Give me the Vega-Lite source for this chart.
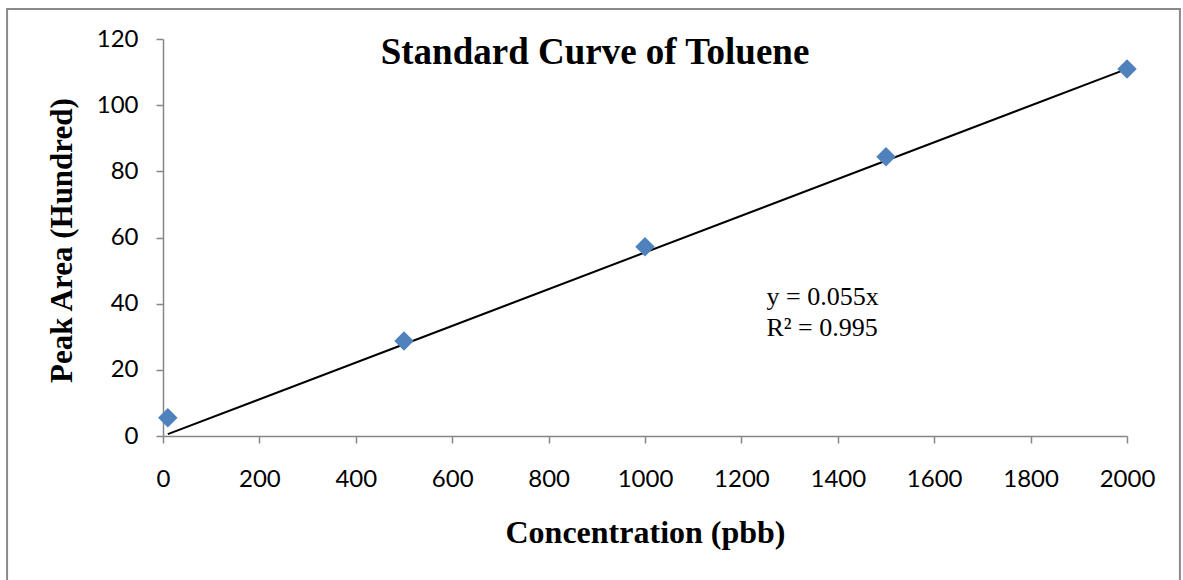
{
  "$schema": "https://vega.github.io/schema/vega-lite/v6.json",
  "autosize": "none",
  "width": 964,
  "height": 397,
  "padding": {"left": 163, "top": 39, "right": 56, "bottom": 144},
  "background": "white",
  "title": {
    "text": "Standard Curve of Toluene",
    "anchor": "middle",
    "font": "Liberation Serif",
    "fontSize": 37,
    "fontWeight": "bold",
    "color": "black",
    "baseline": "alphabetic",
    "offset": 0,
    "dx": -50,
    "dy": 93
  },
  "datasets": {
    "standards": [
      {"conc": 10, "area": 5.5},
      {"conc": 500, "area": 28.7},
      {"conc": 1000, "area": 57.2},
      {"conc": 1500, "area": 84.4},
      {"conc": 2000, "area": 110.9}
    ],
    "trend": [
      {"conc": 10, "area": 0.555},
      {"conc": 2000, "area": 110.98}
    ]
  },
  "config": {
    "view": {"stroke": null},
    "axis": {
      "grid": false,
      "domainColor": "#868686",
      "domainWidth": 1.5,
      "tickColor": "#868686",
      "tickWidth": 1.5,
      "tickSize": 7,
      "labelFont": "Lato",
      "labelFontSize": 24,
      "labelColor": "black",
      "labelFlush": false,
      "labelOverlap": false,
      "titleFont": "Liberation Serif",
      "titleFontSize": 31,
      "titleFontWeight": "bold",
      "titleColor": "black"
    }
  },
  "layer": [
    {
      "data": {"values": [{}]},
      "mark": {"type": "rect", "fill": null, "stroke": "#8a8a8a", "strokeWidth": 2, "clip": false},
      "encoding": {
        "x": {"datum": -323.5, "type": "quantitative"},
        "x2": {"datum": 2109.8},
        "y": {"datum": 129.1, "type": "quantitative"},
        "y2": {"datum": -50}
      }
    },
    {
      "data": {"name": "trend"},
      "mark": {"type": "line", "color": "black", "strokeWidth": 2},
      "encoding": {
        "x": {"field": "conc", "type": "quantitative"},
        "y": {"field": "area", "type": "quantitative"}
      }
    },
    {
      "data": {"name": "standards"},
      "mark": {"type": "point", "shape": "diamond", "filled": true, "color": "#4f81bd", "size": 380, "opacity": 1},
      "encoding": {
        "x": {
          "field": "conc",
          "type": "quantitative",
          "scale": {"domain": [0, 2000], "nice": false},
          "axis": {
            "values": [0, 200, 400, 600, 800, 1000, 1200, 1400, 1600, 1800, 2000],
            "format": "d",
            "labelPadding": 24,
            "title": "Concentration (pbb)",
            "titleFontSize": 32,
            "titleBaseline": "alphabetic",
            "titleY": 106,
            "titleX": 482
          }
        },
        "y": {
          "field": "area",
          "type": "quantitative",
          "scale": {"domain": [0, 120], "nice": false},
          "axis": {
            "values": [0, 20, 40, 60, 80, 100, 120],
            "format": "d",
            "labelPadding": 18,
            "title": "Peak Area (Hundred)",
            "titleBaseline": "middle",
            "titleX": -101,
            "titleY": 201
          }
        }
      }
    },
    {
      "data": {"values": [{"conc": 1252, "area": 39.6, "eq": ["y = 0.055x", "R² = 0.995"]}]},
      "mark": {"type": "text", "align": "left", "baseline": "alphabetic", "font": "Liberation Serif", "fontSize": 26, "lineHeight": 31, "color": "black"},
      "encoding": {
        "x": {"field": "conc", "type": "quantitative"},
        "y": {"field": "area", "type": "quantitative"},
        "text": {"field": "eq"}
      }
    }
  ]
}
